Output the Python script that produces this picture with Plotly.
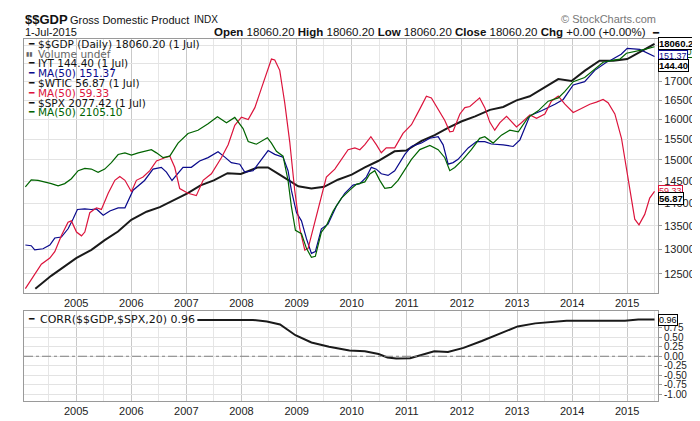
import math
import plotly.graph_objects as go

# $$GDP, quarterly points
gdp_dates = ["2004-04-05", "2004-07-19", "2005-01-01", "2005-04-12", "2005-07-09", "2005-10-05",
             "2006-01-01", "2006-04-12", "2006-07-09", "2006-09-24", "2007-01-08", "2007-04-05",
             "2007-07-02", "2007-10-01", "2007-12-28", "2008-04-19", "2008-06-25", "2008-09-02",
             "2008-11-07", "2009-01-12", "2009-04-09", "2009-07-02", "2009-10-01", "2010-01-01",
             "2010-03-29", "2010-06-25", "2010-10-12", "2010-12-28", "2011-04-09", "2011-07-05",
             "2011-10-01", "2011-12-28", "2012-03-29", "2012-07-05", "2012-10-01", "2012-12-28",
             "2013-03-26", "2013-07-05", "2013-10-01", "2013-12-28", "2014-03-29", "2014-07-02",
             "2014-10-01", "2015-01-01", "2015-04-05", "2015-07-01"]
gdp = [12207, 12461, 12820, 12989, 13192, 13377, 13629, 13806, 13907, 14037, 14219, 14403,
       14516, 14684, 14668, 14821, 14821, 14668, 14516, 14381, 14330, 14368, 14532, 14651,
       14821, 14973, 15208, 15224, 15462, 15607, 15790, 15950, 16082, 16250, 16326, 16497,
       16607, 16841, 17070, 17017, 17310, 17581, 17581, 17625, 17856, 18060.20]

# IYT MA(50)
iyt_dates = ["2004-01-30", "2004-03-09", "2004-04-01", "2004-05-26", "2004-07-10", "2004-08-12",
             "2004-09-25", "2004-11-08", "2004-12-11", "2005-01-09", "2005-02-27", "2005-04-11",
             "2005-05-15", "2005-06-29", "2005-08-12", "2005-10-06", "2005-11-20", "2006-01-13",
             "2006-03-30", "2006-05-25", "2006-07-19", "2006-08-22", "2006-09-28", "2006-11-07",
             "2006-12-10", "2007-02-03", "2007-03-30", "2007-05-25", "2007-07-30", "2007-09-13",
             "2007-10-26", "2007-12-21", "2008-01-23", "2008-03-18", "2008-05-12", "2008-06-26",
             "2008-08-09", "2008-10-03", "2008-11-05", "2008-11-27", "2008-12-31", "2009-02-02",
             "2009-03-07", "2009-04-09", "2009-05-05", "2009-06-14", "2009-07-28", "2009-09-21",
             "2009-11-16", "2010-01-10", "2010-02-24", "2010-04-08", "2010-05-11", "2010-06-13",
             "2010-07-16", "2010-08-30", "2010-10-13", "2010-12-19", "2011-02-01", "2011-04-08",
             "2011-06-03", "2011-07-28", "2011-08-30", "2011-10-02", "2011-11-04", "2011-12-07",
             "2012-02-12", "2012-04-07", "2012-06-01", "2012-07-15", "2012-10-01", "2012-12-06",
             "2013-01-20", "2013-03-27", "2013-06-12", "2013-09-09", "2013-11-03", "2014-01-08",
             "2014-03-25", "2014-05-31", "2014-08-16", "2014-09-16", "2014-11-22", "2015-01-01",
             "2015-03-25", "2015-05-19", "2015-07-01"]
iyt_ma = [57.3, 57.1, 55.9, 56.2, 57.3, 59.4, 59.7, 62.3, 65.5, 68.8,
          69.0, 68.8, 69.0, 66.8, 68.3, 69.4, 69.4, 76.0, 79.9, 84.7,
          85.5, 83.4, 79.9, 82.7, 85.5, 85.5, 88.3, 89.9, 92.6, 90.1,
          87.6, 86.9, 83.4, 84.0, 89.1, 93.2, 91.4, 90.1, 84.0, 76.0,
          67.7, 64.9, 59.2, 54.9, 55.4, 62.3, 63.8, 70.0, 74.8, 78.0,
          78.6, 81.3, 85.5, 84.7, 82.7, 82.0, 84.0, 91.4, 95.2, 96.9,
          99.3, 100.1, 96.0, 86.9, 87.6, 89.1, 94.5, 97.6, 97.6, 96.4,
          96.0, 95.2, 98.5, 111.6, 114.4, 118.3, 121.3, 130.7, 132.9, 140.9,
          146.9, 148.6, 153.1, 157.8, 157.0, 153.7, 151.37]
iyt_last = 144.40

# $WTIC MA(50)
wtic_dates = ["2004-01-30", "2004-03-20", "2004-05-15", "2004-07-10", "2004-08-12", "2004-09-25",
              "2004-11-08", "2004-11-30", "2005-01-03", "2005-02-05", "2005-02-27", "2005-04-01",
              "2005-05-15", "2005-06-17", "2005-08-01", "2005-09-14", "2005-10-17", "2005-11-20",
              "2006-01-02", "2006-02-04", "2006-03-20", "2006-05-04", "2006-06-17", "2006-08-11",
              "2006-09-13", "2006-10-16", "2006-11-18", "2007-01-12", "2007-03-08", "2007-04-22",
              "2007-06-16", "2007-08-21", "2007-10-05", "2007-11-18", "2008-01-01", "2008-02-15",
              "2008-03-30", "2008-05-13", "2008-06-26", "2008-07-18", "2008-08-09", "2008-09-11",
              "2008-10-14", "2008-11-16", "2008-12-19", "2009-01-22", "2009-02-24", "2009-03-18",
              "2009-05-01", "2009-06-14", "2009-07-17", "2009-09-11", "2009-10-25", "2009-12-08",
              "2010-01-22", "2010-02-24", "2010-03-29", "2010-05-08", "2010-06-13", "2010-07-16",
              "2010-08-18", "2010-10-13", "2010-12-07", "2011-02-01", "2011-03-28", "2011-05-11",
              "2011-06-13", "2011-07-28", "2011-09-10", "2011-10-13", "2011-11-04", "2011-12-19",
              "2012-01-21", "2012-02-23", "2012-04-28", "2012-06-01", "2012-07-04", "2012-08-06",
              "2012-09-09", "2012-10-23", "2012-11-25", "2012-12-28", "2013-01-30", "2013-03-27",
              "2013-05-10", "2013-07-04", "2013-08-17", "2013-10-01", "2013-11-14", "2014-01-08",
              "2014-03-03", "2014-04-28", "2014-06-11", "2014-07-25", "2014-08-27", "2014-10-11",
              "2014-11-24", "2014-12-27", "2015-01-29", "2015-02-20", "2015-03-20", "2015-04-27",
              "2015-05-30", "2015-07-01"]
wtic_ma = [34.0, 36.2, 39.1, 40.5, 42.0, 46.1, 49.7, 50.1, 47.0, 46.0,
           47.0, 52.5, 54.0, 53.5, 58.7, 63.2, 64.6, 63.2, 59.2, 63.2,
           64.4, 66.8, 70.6, 71.9, 72.6, 68.1, 60.3, 58.7, 57.9, 63.2,
           65.6, 71.9, 77.5, 86.6, 90.7, 89.5, 95.8, 107.1, 120.8, 126.5,
           125.8, 118.6, 98.5, 78.9, 59.8, 47.9, 42.4, 42.8, 49.7, 57.6,
           64.4, 67.4, 71.3, 75.3, 76.1, 75.3, 77.5, 81.1, 77.5, 74.0,
           76.1, 76.1, 82.7, 86.9, 95.0, 102.3, 101.3, 95.0, 89.0, 83.4,
           83.7, 92.4, 95.8, 96.4, 101.3, 95.8, 88.2, 84.2, 87.9, 91.2,
           88.5, 85.8, 87.9, 91.9, 90.1, 92.4, 99.5, 102.3, 97.7, 93.2,
           95.3, 97.7, 98.9, 100.4, 98.5, 92.4, 80.4, 68.1, 56.5, 50.6,
           49.0, 52.0, 57.1, 59.33]
wtic_last = 56.87

# $SPX MA(50)
spx_dates = ["2004-01-30", "2004-03-09", "2004-04-23", "2004-06-06", "2004-07-20", "2004-09-03",
             "2004-10-17", "2004-11-30", "2005-01-14", "2005-02-27", "2005-04-11", "2005-05-26",
             "2005-07-09", "2005-08-22", "2005-10-06", "2005-11-20", "2006-01-02", "2006-02-16",
             "2006-03-31", "2006-05-14", "2006-06-17", "2006-07-31", "2006-09-13", "2006-11-07",
             "2007-01-12", "2007-03-19", "2007-05-25", "2007-07-26", "2007-09-24", "2007-11-18",
             "2008-01-12", "2008-02-15", "2008-04-09", "2008-05-13", "2008-06-21", "2008-07-18",
             "2008-08-20", "2008-10-03", "2008-11-05", "2008-11-27", "2008-12-24", "2009-02-02",
             "2009-03-07", "2009-04-09", "2009-05-05", "2009-06-14", "2009-07-17", "2009-08-31",
             "2009-10-25", "2009-12-19", "2010-02-01", "2010-03-29", "2010-05-01", "2010-06-03",
             "2010-07-06", "2010-08-08", "2010-09-21", "2010-11-04", "2010-12-19", "2011-02-01",
             "2011-03-28", "2011-06-03", "2011-07-28", "2011-09-10", "2011-10-13", "2011-11-15",
             "2012-01-09", "2012-03-04", "2012-04-28", "2012-06-01", "2012-07-26", "2012-09-19",
             "2012-11-14", "2013-01-09", "2013-03-15", "2013-05-21", "2013-07-26", "2013-10-01",
             "2013-11-14", "2014-01-08", "2014-03-25", "2014-05-31", "2014-07-25", "2014-09-18",
             "2014-11-13", "2014-12-27", "2015-02-20", "2015-04-27", "2015-07-01"]
spx_ma = [1069, 1106, 1103, 1095, 1086, 1074, 1086, 1112, 1156, 1169,
          1165, 1147, 1165, 1202, 1250, 1260, 1246, 1260, 1270, 1280,
          1260, 1231, 1240, 1321, 1384, 1406, 1451, 1501, 1458, 1496,
          1417, 1331, 1314, 1331, 1356, 1321, 1270, 1240, 1103, 973,
          866, 852, 794, 760, 764, 859, 886, 951, 1012, 1052,
          1082, 1095, 1138, 1156, 1103, 1061, 1066, 1103, 1165, 1221,
          1280, 1306, 1280, 1231, 1156, 1174, 1221, 1280, 1352, 1362,
          1321, 1373, 1406, 1395, 1496, 1544, 1618, 1644, 1696, 1778,
          1814, 1892, 1953, 1968, 1983, 2040, 2056, 2079, 2105.10]
spx_last = 2077.42

# CORR($$GDP,$SPX,20)
corr_dates = ["2007-03-15", "2008-03-17", "2008-06-18", "2008-09-13", "2008-12-24", "2009-04-09",
              "2009-08-04", "2009-12-17", "2010-03-29", "2010-06-28", "2010-08-26", "2010-10-23",
              "2011-01-23", "2011-04-20", "2011-07-02", "2011-10-01", "2012-01-12", "2012-05-12",
              "2012-09-06", "2013-01-05", "2013-05-01", "2013-08-29", "2013-11-25", "2014-12-17",
              "2015-03-15", "2015-07-01"]
corr = [0.95, 0.95, 0.91, 0.83, 0.55, 0.36, 0.25, 0.15, 0.13, 0.06, -0.03, -0.06,
        -0.05, 0.05, 0.13, 0.11, 0.22, 0.40, 0.58, 0.78, 0.86, 0.91, 0.93, 0.93,
        0.96, 0.96]

gdp_ticks = list(range(12500, 18001, 500))
corr_ticks = [-1.0, -0.75, -0.5, -0.25, 0.0, 0.25, 0.5, 0.75]

BLUE = "#0a0a8c"
RED = "#dc143c"
GREEN = "#006400"
NARROW = "Liberation Sans Narrow, Arial Narrow, Liberation Sans, Arial"
SANS = "Liberation Sans, Arial"
LEG = "DejaVu Sans, Verdana"


def px(x):
    return (x - 16) / 634


def py(y):
    return (404 - y) / 373


fig = go.Figure()
fig.add_trace(go.Scatter(x=iyt_dates, y=iyt_ma, yaxis="y3", mode="lines",
                         line=dict(color=BLUE, width=1.2)))
fig.add_trace(go.Scatter(x=wtic_dates, y=wtic_ma, yaxis="y4", mode="lines",
                         line=dict(color=RED, width=1.2)))
fig.add_trace(go.Scatter(x=spx_dates, y=spx_ma, yaxis="y5", mode="lines",
                         line=dict(color=GREEN, width=1.2)))
fig.add_trace(go.Scatter(x=gdp_dates, y=gdp, yaxis="y", mode="lines",
                         line=dict(color="#1a1a1a", width=2)))
fig.add_trace(go.Scatter(x=corr_dates, y=corr, xaxis="x2", yaxis="y2", mode="lines",
                         line=dict(color="#1a1a1a", width=2)))

xcommon = dict(type="date", range=["2004-01-21", "2015-07-24"], dtick="M12",
               tick0="2005-01-01", tickformat="%Y", showgrid=True, gridcolor="#c9c9c9",
               minor=dict(dtick="M6", showgrid=True, gridcolor="#e6e6e6"),
               showline=True, linecolor="#9a9a9a", mirror=True, zeroline=False,
               tickfont=dict(family=NARROW, size=11, color="#222"))

# each price overlay gets its own hidden log scale on the price panel
overlay = dict(overlaying="y", type="log", autorange=False, visible=False)

fig.update_layout(
    width=700, height=421,
    margin=dict(l=16, r=50, t=31, b=17),
    paper_bgcolor="white", plot_bgcolor="white",
    showlegend=False,
    xaxis=dict(domain=[0, 1], anchor="y", **xcommon),
    xaxis2=dict(domain=[0, 1], anchor="y2", matches="x", **xcommon),
    yaxis=dict(domain=[0.2976, 1], type="log", autorange=False,
               range=[math.log10(12118), math.log10(18200)], side="right",
               tickvals=gdp_ticks,
               ticktext=[str(v) if v < 17500 else "" for v in gdp_ticks],
               gridcolor="#e3e3e3", showline=True, linecolor="#9a9a9a", mirror=True,
               ticks="outside", ticklen=3, tickcolor="#9a9a9a",
               tickfont=dict(family=NARROW, size=11, color="#222")),
    yaxis2=dict(domain=[0, 0.2493], range=[-1.17, 1.19], side="right",
                tickvals=corr_ticks, ticktext=["%.2f" % v for v in corr_ticks],
                gridcolor="#e3e3e3", showline=True, linecolor="#9a9a9a", mirror=True,
                zeroline=False, ticks="outside", ticklen=3, tickcolor="#9a9a9a",
                tickfont=dict(family=NARROW, size=10, color="#222")),
    yaxis3=dict(range=[math.log10(44.69), math.log10(165.6)], **overlay),
    yaxis4=dict(range=[math.log10(33.11), math.log10(141.9)], **overlay),
    yaxis5=dict(range=[math.log10(638.9), math.log10(2185.7)], **overlay),
)

# zero line in the correlation panel
fig.add_shape(type="line", xref="x2 domain", x0=0, x1=1, yref="y2", y0=0, y1=0,
              line=dict(color="#808080", width=1, dash="dashdot"))
# white boxes behind the in-chart legends
fig.add_shape(type="rect", xref="paper", yref="paper", x0=0, x1=px(212), y0=py(112), y1=1,
              fillcolor="white", line=dict(width=0), layer="between")
fig.add_shape(type="rect", xref="paper", yref="paper", x0=0, x1=px(192), y0=py(327), y1=py(311),
              fillcolor="white", line=dict(width=0), layer="between")

ann = []


def text(x, y, s, size, family=SANS, color="#111", anchor="left"):
    ann.append(dict(xref="paper", yref="paper", x=px(x), y=py(y), text=s, showarrow=False,
                    xanchor=anchor, yanchor="middle", font=dict(family=family, size=size, color=color)))


# header
text(15, 11, "<b>$$GDP</b>", 13)
text(60, 11, "Gross Domestic Product", 11)
text(184, 11, "INDX", 10)
text(15, 24, "1-Jul-2015", 11)
text(640, 24, "<b>Open</b> 18060.20 <b>High</b> 18060.20 <b>Low</b> 18060.20 "
     "<b>Close</b> 18060.20 <b>Chg</b> +0.00 (+0.00%)", 11.5, anchor="right")
text(642, 24, "<b>━</b>", 10, family=LEG)
text(650, 10, "© StockCharts.com", 11, color="#777", anchor="right")

# main panel legend
legend_rows = [
    ("━", "$$GDP (Daily) %.2f (1 Jul)" % gdp[-1], "#111"),
    ("▮▮", "Volume undef", "#666"),
    ("━", "IYT %.2f (1 Jul)" % iyt_last, "#111"),
    ("━", "MA(50) %.2f" % iyt_ma[-1], BLUE),
    ("━", "$WTIC %.2f (1 Jul)" % wtic_last, "#111"),
    ("━", "MA(50) %.2f" % wtic_ma[-1], RED),
    ("━", "$SPX %.2f (1 Jul)" % spx_last, "#111"),
    ("━", "MA(50) %.2f" % spx_ma[-1], GREEN),
]
for i, (mark, label, col) in enumerate(legend_rows):
    y = 36 + i * 10.1
    if mark == "━":
        text(18, y, "<b>━</b>", 9, family=LEG, color=col)
    else:
        text(16, y, mark, 6, family=LEG, color=col)
    text(28, y, label, 10.5, family=LEG, color=col)

# correlation legend
text(18, 320, "<b>━</b>", 9, family=LEG)
text(30, 320, "CORR($$GDP,$SPX,20) %.2f" % corr[-1], 11, family=LEG)


def tag(yref, yval, s, color, bold, yshift=0, size=9.5):
    ann.append(dict(xref="paper", x=1.0, xanchor="left", xshift=0, yref=yref, y=yval,
                    yshift=yshift, yanchor="middle", showarrow=False,
                    text=("<b>%s</b>" % s) if bold else s,
                    font=dict(family=SANS, size=size, color=color if not bold else "#000"),
                    bgcolor="white", bordercolor=color, borderwidth=1, borderpad=0))


# value tags on the right (later ones drawn on top)
tag("y5", math.log10(spx_ma[-1]), "%.2f" % spx_ma[-1], GREEN, False, yshift=-5, size=9)
tag("y3", math.log10(iyt_ma[-1]), "%.2f" % iyt_ma[-1], BLUE, False, size=9)
tag("y3", math.log10(iyt_last), "%.2f" % iyt_last, "#000", True)
tag("y", math.log10(gdp[-1]), "%.2f" % gdp[-1], "#000", True)
tag("y4", math.log10(wtic_ma[-1]), "%.2f" % wtic_ma[-1], RED, False, size=9)
tag("y4", math.log10(wtic_last), "%.2f" % wtic_last, "#000", True)
tag("y2", corr[-1], "%.2f" % corr[-1], "#000", False, size=9)

fig.update_layout(annotations=ann)
fig.write_html("out.html")
